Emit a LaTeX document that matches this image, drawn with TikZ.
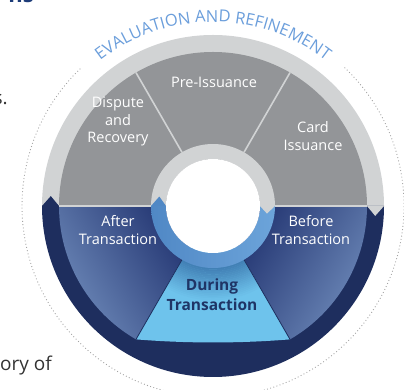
\documentclass[tikz,border=0pt]{standalone}
\usepackage{fontspec}
\setmainfont{Open Sans}
\usetikzlibrary{decorations.text}
\definecolor{ringgray}{HTML}{D1D3D4}
\definecolor{secgray}{HTML}{939598}
\definecolor{navy}{HTML}{1E2E5E}
\definecolor{afterdark}{HTML}{1B2C6A}
\definecolor{afterlight}{HTML}{6C88B8}
\definecolor{durlight}{HTML}{6EC3EC}
\definecolor{durdark}{HTML}{3F7CB2}
\definecolor{innerblueA}{HTML}{5088C5}
\definecolor{innerblueB}{HTML}{6CA4DA}
\definecolor{evblue}{HTML}{6B9EDB}
\definecolor{durtext}{HTML}{1F3566}
\definecolor{bodytext}{HTML}{333333}
\definecolor{headblue}{HTML}{1D3C78}
\definecolor{dotgray}{HTML}{A3A3A3}
\begin{document}
\begin{tikzpicture}[x=1pt,y=1pt,
  lbl/.style={text=white, align=center, inner sep=0pt, anchor=base},
  lightdiv/.style={draw=ringgray, line width=1.6pt},
  darkdiv/.style={draw=navy, line width=0.8pt},
  frag/.style={anchor=base east, inner sep=0pt}]
\useasboundingbox (0,0) rectangle (404,390);
% fragments of the surrounding page
\node[frag, text=headblue, font=\bfseries\fontsize{22}{22}\selectfont] (fragA) at (34,387) {ns};
\node[frag, text=bodytext, font=\fontsize{19}{19}\selectfont] (fragB) at (8,285) {s.};
\node[frag, text=bodytext, font=\fontsize{19}{19}\selectfont] (fragC) at (52,19.5) {ory of};
\begin{scope}[shift={(213,184)}]
  \coordinate (C) at (0,0);
  % dotted circle
  \draw[dotgray, line width=0.9pt, dash pattern=on 0.9pt off 2.4pt] (134:191) arc (134:407:191);
  % title along arc
  \path[decoration={text along path, text align=center,
     text={|\fontsize{16.5}{16.5}\selectfont\color{evblue}|EVALUATION AND REFINEMENT}}, decorate]
     (131:184) arc (131:49:184);
  % outer ring
  \fill[ringgray] (C) -- (0:171) arc (0:180:171) -- cycle;
  \fill[secgray] (C) -- (0:154) arc (0:180:154) -- cycle;
  \fill[navy] (C) -- (180:171) arc (180:360:171) -- cycle;
  \fill[navy] (180:171) -- (176.5:162.5) -- (180:154) -- cycle;
  \fill[ringgray] (0:171) -- (356.5:162.5) -- (0:154) -- cycle;
  % lower sectors
  \shade[top color=afterdark, bottom color=afterlight, shading angle=-59]
     (C) -- (180:154) arc (180:240:154) -- cycle;
  \shade[top color=afterdark, bottom color=afterlight, shading angle=59]
     (C) -- (300:154) arc (300:360:154) -- cycle;
  \fill[durlight] (C) -- (240:154) .. controls (-26,-137.5) and (26,-137.5) .. (300:154) -- cycle;
  \begin{scope}
    \clip (C) -- (240:154) .. controls (-26,-137.5) and (26,-137.5) .. (300:154) -- cycle;
    \foreach \i in {0,...,19}{
      \pgfmathtruncatemacro\p{\i*5}
      \draw[line width=2pt, draw=durlight!\p!durdark] (C) circle[radius=61+\i*1.7];
    }
  \end{scope}
  % dividers
  \draw[darkdiv] (240:62) -- (240:154);
  \draw[darkdiv] (300:62) -- (300:154);
  \draw[lightdiv] (60:62) -- (60:154);
  \draw[lightdiv] (120:62) -- (120:154);
  \draw[lightdiv] (180:62) -- (180:154);
  \draw[lightdiv] (0:62) -- (0:154);
  % inner ring
  \shade[left color=innerblueA, right color=innerblueB]
     (180:62) arc (180:360:62) -- (360:47) arc (360:180:47) -- cycle;
  \fill[ringgray] (0:62) arc (0:180:62) -- (180:47) arc (180:0:47) -- cycle;
  \fill[innerblueA] (180:62) -- (170:54.5) -- (180:47) -- cycle;
  \fill[ringgray] (0:62) -- (352:54.5) -- (0:47) -- cycle;
  \fill[white] (C) circle[radius=47];
  % labels
  \node[lbl, font=\fontsize{14.5}{17.5}\selectfont] (pre) at (1,118) {Pre-Issuance};
  \node[lbl, font=\fontsize{14.5}{17.5}\selectfont] (dispute) at (-95,63) {Dispute\\and\\Recovery};
  \node[lbl, font=\fontsize{14.5}{18}\selectfont] (card) at (100,55) {Card\\Issuance};
  \node[lbl, font=\fontsize{14.5}{18}\selectfont] (after) at (-95,-39) {After\\Transaction};
  \node[lbl, font=\fontsize{14.5}{18}\selectfont] (before) at (98,-39) {Before\\Transaction};
  \node[lbl, text=durtext, font=\bfseries\fontsize{15.5}{20}\selectfont] (during) at (-1,-105) {During\\Transaction};
\end{scope}
\end{tikzpicture}
\end{document}
